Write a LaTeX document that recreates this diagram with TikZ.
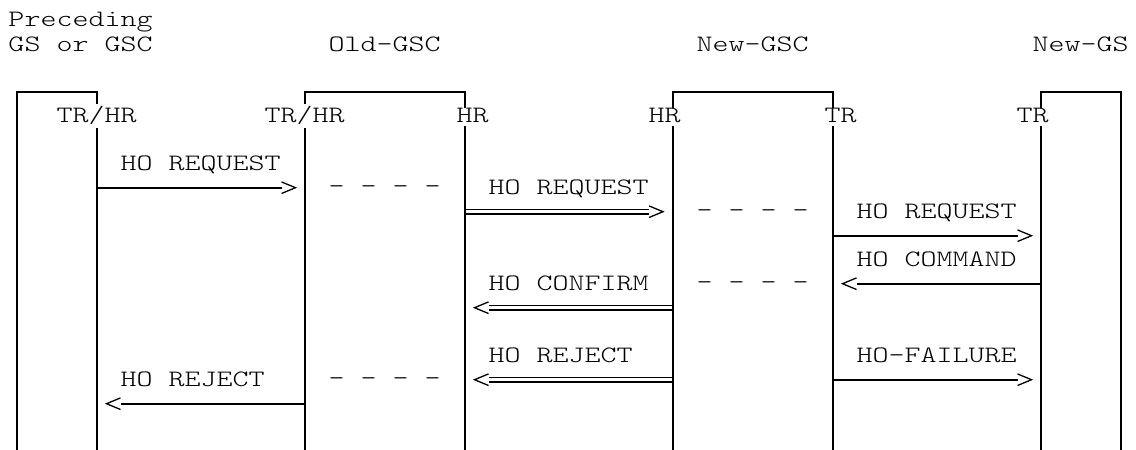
\documentclass[tikz,border=0pt]{standalone}
\usepackage{fontspec}
\newfontfamily\monof{lmmonolt10-regular.otf}[FakeStretch=1.297]
\begin{document}
\begin{tikzpicture}[x=1pt,y=-1pt,
  txt/.style={font=\monof\fontsize{23.5}{24}\selectfont, inner sep=0pt, outer sep=0pt, anchor=base west},
  life/.style={line width=2pt, line join=miter, line cap=butt},
  msg/.style={line width=1.8pt},
  dbl/.style={line width=1.2pt},
  headline/.style={line width=1.3pt, line join=miter, line cap=butt},
  rhead/.pic={\draw[headline] (0,-5.8) -- (14,0) -- (0,5.8);},
  lhead/.pic={\draw[headline] (0,-5.8) -- (-14,0) -- (0,5.8);}
]
\useasboundingbox (0,0) rectangle (1136,450);

% ---- headers (row 0/1) ----
\node[txt] (hpre) at (8.5,26.7) {Preceding};
\node[txt] (hgs)  at (8.5,51.2) {GS or GSC};
\node[txt] (hold) at (328.5,51.2) {Old-GSC};
\node[txt] (hnew) at (696.5,51.2) {New-GSC};
\node[txt] (hngs) at (1032.5,51.2) {New-GS};

% ---- boxes / lifelines ----
\draw[life] (16.5,450) -- (16.5,91.7) -- (96.5,91.7) -- (96.5,103.5);
\draw[life] (96.5,127.7) -- (96.5,450);
\draw[life] (304.5,103.5) -- (304.5,91.7) -- (464.5,91.7) -- (464.5,108);
\draw[life] (304.5,127.7) -- (304.5,450);
\draw[life] (464.5,126) -- (464.5,450);
\draw[life] (672.5,108) -- (672.5,91.7) -- (832.5,91.7) -- (832.5,108);
\draw[life] (672.5,126) -- (672.5,450);
\draw[life] (832.5,126) -- (832.5,450);
\draw[life] (1040.5,108) -- (1040.5,91.7) -- (1120.5,91.7) -- (1120.5,450);
\draw[life] (1040.5,126) -- (1040.5,450);

% ---- row 4 port labels ----
\node[txt] (p1) at (56.5,122.7) {TR/HR};
\node[txt] (p2) at (264.5,122.7) {TR/HR};
\node[txt] (p3) at (456.5,122.7) {HR};
\node[txt] (p4) at (648.5,122.7) {HR};
\node[txt] (p5) at (824.5,122.7) {TR};
\node[txt] (p6) at (1016.5,122.7) {TR};

% ---- message labels ----
\node[txt] (m1) at (120.5,170.7) {HO REQUEST};
\node[txt] (m2) at (488.5,194.7) {HO REQUEST};
\node[txt] (m3) at (856.5,218.7) {HO REQUEST};
\node[txt] (m4) at (856.5,266.7) {HO COMMAND};
\node[txt] (m5) at (488.5,290.7) {HO CONFIRM};
\node[txt] (m6) at (488.5,362.7) {HO REJECT};
\node[txt] (m7) at (856.5,362.7) {HO-FAILURE};
\node[txt] (m8) at (120.5,386.7) {HO REJECT};

% ---- dashes ----
\node[txt] (d1) at (328.5,193.7) {- - - -};
\node[txt] (d2) at (696.5,217.7) {- - - -};
\node[txt] (d3) at (696.5,289.7) {- - - -};
\node[txt] (d4) at (328.5,385.7) {- - - -};

% ---- arrow end points ----
\coordinate (a1s) at (96.5,187.7);   \coordinate (a1e) at (281.5,187.7);
\coordinate (a2s) at (464.5,211.7);  \coordinate (a2e) at (649,211.7);
\coordinate (a3s) at (832.5,235.7);  \coordinate (a3e) at (1017.5,235.7);
\coordinate (a4s) at (1040.5,283.7); \coordinate (a4e) at (856.5,283.7);
\coordinate (a5s) at (672.5,307.7);  \coordinate (a5e) at (488.5,307.7);
\coordinate (a6s) at (672.5,379.7);  \coordinate (a6e) at (488.5,379.7);
\coordinate (a7s) at (832.5,379.7);  \coordinate (a7e) at (1017.5,379.7);
\coordinate (a8s) at (304.5,403.7);  \coordinate (a8e) at (120.5,403.7);

% single arrows
\draw[msg] (a1s) -- (a1e); \pic at (a1e) {rhead};
\draw[msg] (a3s) -- (a3e); \pic at (a3e) {rhead};
\draw[msg] (a4s) -- (a4e); \pic at (a4e) {lhead};
\draw[msg] (a7s) -- (a7e); \pic at (a7e) {rhead};
\draw[msg] (a8s) -- (a8e); \pic at (a8e) {lhead};
% double arrows
\draw[dbl] ([yshift=-2.2pt]a2s) -- ([yshift=-2.2pt]a2e) ([yshift=2.2pt]a2s) -- ([yshift=2.2pt]a2e); \pic at (a2e) {rhead};
\draw[dbl] ([yshift=-2.2pt]a5s) -- ([yshift=-2.2pt]a5e) ([yshift=2.2pt]a5s) -- ([yshift=2.2pt]a5e); \pic at (a5e) {lhead};
\draw[dbl] ([yshift=-2.2pt]a6s) -- ([yshift=-2.2pt]a6e) ([yshift=2.2pt]a6s) -- ([yshift=2.2pt]a6e); \pic at (a6e) {lhead};
\end{tikzpicture}
\end{document}
